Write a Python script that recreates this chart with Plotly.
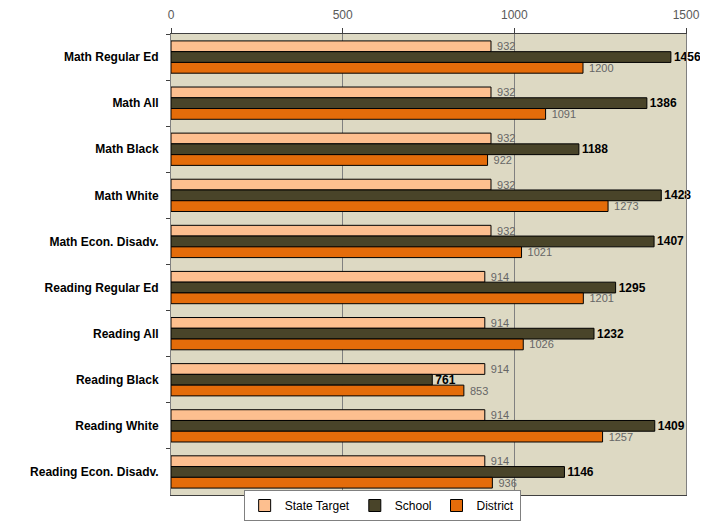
import plotly.graph_objects as go

categories = ["Math Regular Ed", "Math All", "Math Black", "Math White", "Math Econ. Disadv.",
              "Reading Regular Ed", "Reading All", "Reading Black", "Reading White",
              "Reading Econ. Disadv."]
state_target = [932, 932, 932, 932, 932, 914, 914, 914, 914, 914]
school = [1456, 1386, 1188, 1428, 1407, 1295, 1232, 761, 1409, 1146]
district = [1200, 1091, 922, 1273, 1021, 1201, 1026, 853, 1257, 936]
x_ticks = [0, 500, 1000, 1500]

FONT = "Liberation Sans, Arial, sans-serif"

fig = go.Figure()
fig.add_trace(go.Bar(
    y=categories, x=state_target, orientation="h", name="State Target",
    marker=dict(color="#FDBF8F", line=dict(color="#000000", width=1)),
    texttemplate=" %{x}", textposition="outside", constraintext="none", cliponaxis=False,
    textfont=dict(family=FONT, size=11, color="#666666")))
fig.add_trace(go.Bar(
    y=categories, x=school, orientation="h", name="School",
    marker=dict(color="#494429", line=dict(color="#000000", width=1)),
    texttemplate="%{x}", textposition="outside", constraintext="none", cliponaxis=False,
    textfont=dict(family=FONT, size=12, color="#000000", weight="bold")))
fig.add_trace(go.Bar(
    y=categories, x=district, orientation="h", name="District",
    marker=dict(color="#E46C0A", line=dict(color="#000000", width=1)),
    texttemplate=" %{x}", textposition="outside", constraintext="none", cliponaxis=False,
    textfont=dict(family=FONT, size=11, color="#666666")))

# page body has an 8px margin, so the figure is drawn 8px in from the window edge
W, H = 700, 513
top = 26
plot_bottom = 487
plot_h = H - top  # margin b = 0
dom_low = (H - plot_bottom) / plot_h

fig.update_layout(
    width=W, height=H,
    margin=dict(l=163, r=22, t=top, b=0),
    barmode="group", bargap=0.3, bargroupgap=0,
    plot_bgcolor="#DDD9C3", paper_bgcolor="#FFFFFF",
    font=dict(family=FONT, size=12, color="#000000"),
    showlegend=True,
    legend=dict(orientation="h", x=0.41, xanchor="center", y=0, yanchor="bottom",
                bordercolor="#808080", borderwidth=1, bgcolor="#FFFFFF",
                font=dict(family=FONT, size=12, color="#000000"),
                traceorder="normal", itemwidth=30),
    xaxis=dict(side="top", range=[0, 1500], tickvals=x_ticks, automargin=False,
               showgrid=True, gridcolor="#808080", gridwidth=1,
               showline=True, linecolor="#404040", linewidth=1, mirror=True,
               ticks="outside", ticklen=5, tickcolor="#404040", ticklabelstandoff=4,
               tickfont=dict(family=FONT, size=12, color="#595959"),
               zeroline=False),
    yaxis=dict(autorange="reversed", showline=True, linecolor="#808080", linewidth=1,
               mirror=True, ticks="outside", tickson="boundaries", ticklen=4,
               tickcolor="#404040", ticklabelstandoff=9, automargin=False,
               domain=[dom_low, 1],
               tickfont=dict(family=FONT, size=12, color="#000000", weight="bold")),
)

fig.write_html("out.html")
